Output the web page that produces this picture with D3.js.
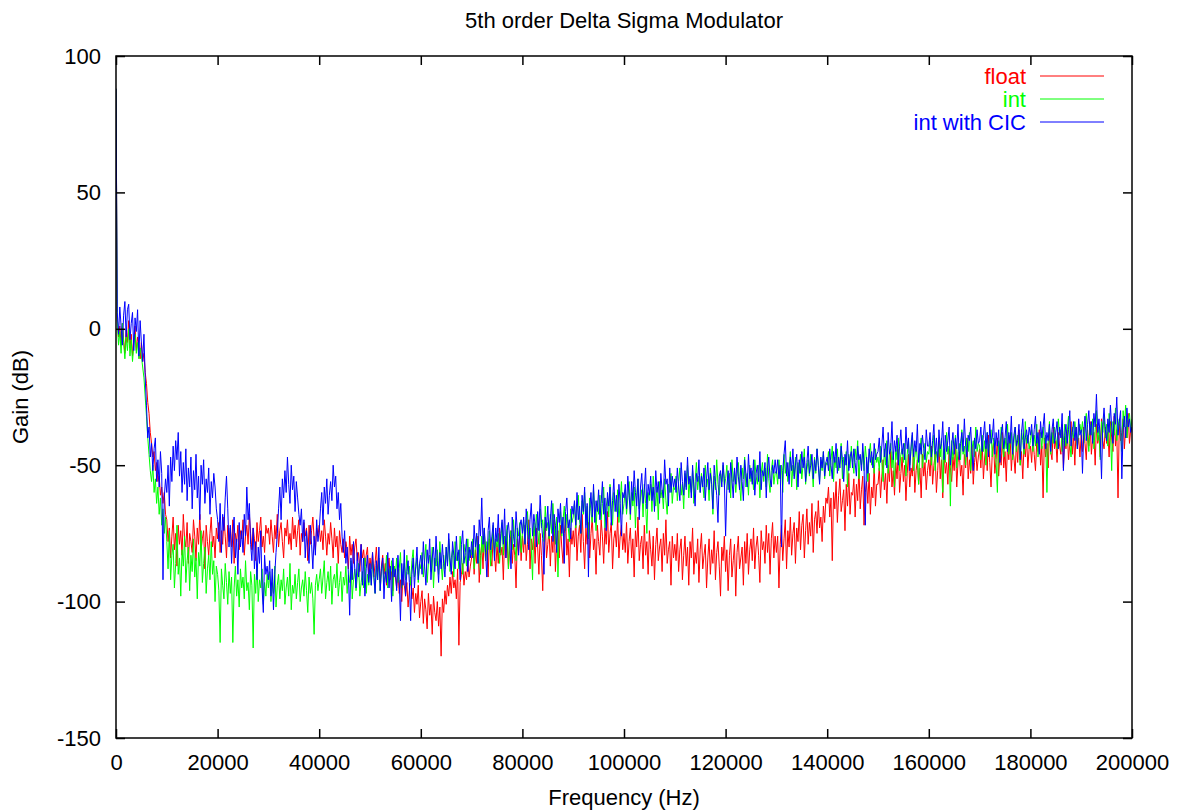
<!DOCTYPE html>
<html>
<head>
<meta charset="utf-8">
<script src="https://cdnjs.cloudflare.com/ajax/libs/d3/7.8.5/d3.min.js"></script>
<style>
body { margin: 0; background: #fff; }
text { font-family: "Liberation Sans", Arial, sans-serif; }
</style>
</head>
<body>
<div id="chart"></div>
<script>
// frequency grid, 250 Hz per sample (0 .. 200000 Hz)
const freqs = d3.range(0, 200001, 250);

const xTicks = [0, 20000, 40000, 60000, 80000, 100000, 120000, 140000, 160000, 180000, 200000];
const yTicks = [-150, -100, -50, 0, 50, 100];

const seriesNames = ["float", "int", "int with CIC"];
const seriesColors = ["#ff0000", "#00ff00", "#0000ff"];

// gain in dB, two lines = 10000 Hz
const floatGain = [
  88, 4, -3, 1, -6, 2, -4, -9, 0, -5, 3, -7, -2, -10, -4, 1, -8, -3, -6, -11,
  -5, -12, -9, -16, -20, -27, -31, -38, -42, -47, -45, -52, -49, -56, -54, -61, -58, -64, -60, -68,
  -70, -78, -73, -84, -76, -69, -81, -75, -87, -72, -79, -74, -83, -68, -77, -80, -71, -86, -75, -78,
  -82, -70, -76, -85, -73, -79, -68, -81, -77, -74, -88, -72, -78, -83, -75, -69, -80, -76, -84, -73,
  -77, -71, -82, -74, -79, -69, -76, -84, -72, -78, -73, -80, -70, -86, -75, -78, -72, -81, -74, -77,
  -70, -83, -76, -72, -79, -68, -75, -81, -73, -77, -85, -71, -78, -74, -69, -80, -76, -82, -72, -75,
  -73, -79, -70, -76, -82, -72, -77, -68, -80, -74, -71, -78, -84, -73, -76, -70, -79, -75, -81, -69,
  -77, -72, -80, -74, -70, -83, -75, -78, -71, -76, -73, -85, -72, -79, -74, -69, -77, -81, -73, -76,
  -72, -78, -74, -81, -70, -76, -83, -75, -79, -71, -77, -84, -73, -80, -76, -86, -74, -79, -82, -77,
  -84, -78, -81, -88, -76, -83, -79, -86, -80, -77, -85, -82, -89, -79, -84, -81, -87, -83, -80, -90,
  -84, -88, -82, -91, -86, -80, -89, -85, -93, -87, -83, -90, -86, -94, -88, -84, -92, -89, -96, -87,
  -91, -95, -88, -97, -92, -100, -90, -94, -98, -93, -102, -96, -91, -99, -95, -104, -97, -101, -94, -106,
  -100, -96, -108, -99, -103, -110, -97, -105, -101, -112, -98, -104, -107, -100, -109, -102, -120, -99, -104, -96,
  -101, -94, -98, -91, -97, -89, -95, -92, -99, -88, -116, -93, -90, -86, -94, -89, -92, -85, -91, -87,
  -84, -78, -90, -81, -86, -76, -93, -83, -79, -88, -74, -85, -80, -91, -77, -84, -87, -75, -82, -89,
  -79, -86, -73, -83, -80, -92, -76, -84, -78, -88, -81, -74, -86, -79, -83, -95, -77, -82, -75, -85,
  -76, -82, -72, -85, -79, -70, -88, -77, -81, -74, -86, -73, -80, -90, -75, -83, -96, -78, -71, -84,
  -79, -73, -87, -76, -82, -70, -89, -78, -74, -84, -72, -80, -86, -75, -69, -83, -77, -91, -73, -79,
  -74, -80, -70, -85, -76, -72, -82, -68, -78, -88, -73, -79, -71, -84, -75, -69, -81, -77, -90, -72,
  -78, -83, -70, -76, -86, -73, -79, -67, -82, -75, -71, -88, -77, -74, -80, -69, -84, -76, -72, -81,
  -75, -82, -71, -86, -78, -73, -84, -77, -91, -74, -80, -69, -85, -79, -76, -88, -72, -83, -78, -90,
  -74, -81, -87, -76, -92, -79, -73, -85, -80, -77, -89, -75, -83, -70, -86, -81, -78, -94, -76, -84,
  -79, -85, -75, -89, -81, -77, -92, -83, -76, -87, -80, -94, -78, -84, -73, -90, -82, -86, -77, -93,
  -81, -75, -88, -83, -79, -95, -84, -77, -90, -81, -86, -74, -92, -82, -78, -87, -98, -80, -85, -76,
  -89, -81, -96, -83, -77, -91, -85, -79, -98, -82, -76, -88, -84, -80, -94, -78, -86, -75, -90, -81,
  -77, -85, -73, -88, -80, -76, -83, -93, -74, -81, -78, -86, -72, -82, -75, -90, -77, -71, -84, -76,
  -82, -76, -95, -79, -72, -85, -77, -70, -88, -74, -80, -69, -83, -75, -71, -86, -73, -78, -67, -81,
  -72, -68, -84, -74, -66, -79, -71, -76, -64, -82, -70, -67, -75, -63, -73, -69, -78, -65, -71, -62,
  -64, -58, -69, -62, -85, -60, -66, -56, -71, -61, -55, -67, -63, -59, -74, -57, -65, -53, -68, -60,
  -61, -55, -69, -57, -63, -51, -66, -59, -54, -72, -60, -56, -64, -53, -68, -58, -62, -50, -65, -57,
  -57, -51, -62, -54, -48, -59, -53, -64, -50, -56, -45, -58, -52, -61, -49, -55, -44, -60, -53, -47,
  -56, -50, -63, -53, -46, -58, -51, -54, -44, -60, -52, -48, -57, -51, -62, -46, -54, -49, -59, -52,
  -48, -54, -43, -57, -50, -46, -60, -52, -41, -55, -48, -62, -45, -53, -49, -57, -44, -51, -56, -47,
  -52, -42, -58, -49, -45, -54, -50, -61, -46, -51, -40, -55, -48, -53, -43, -57, -49, -45, -52, -47,
  -44, -51, -41, -55, -47, -43, -52, -39, -49, -58, -45, -42, -53, -48, -40, -54, -46, -50, -38, -51,
  -45, -56, -42, -48, -39, -52, -44, -47, -53, -41, -49, -37, -50, -45, -55, -42, -47, -40, -51, -44,
  -43, -49, -39, -46, -52, -41, -45, -37, -50, -43, -62, -40, -47, -42, -51, -38, -45, -48, -36, -44,
  -41, -49, -38, -43, -46, -35, -51, -40, -44, -37, -48, -42, -34, -46, -39, -50, -36, -43, -40, -47,
  -39, -45, -36, -42, -48, -37, -43, -34, -46, -40, -38, -50, -35, -42, -39, -47, -33, -41, -44, -36,
  -42, -38, -47, -34, -40, -45, -32, -43, -37, -62, -35, -41, -38, -33, -44, -36, -40, -31, -42, -37,
  -36
];

const intGain = [
  88, 3, -6, -1, -9, 2, -5, -11, -3, -8, 0, -10, -4, -12, -6, -2, -9, -5, -11, -7,
  -10, -14, -18, -25, -32, -40, -46, -52, -56, -50, -60, -55, -64, -58, -68, -62, -72, -66, -75, -69,
  -78, -88, -74, -92, -83, -79, -95, -86, -72, -90, -84, -98, -81, -87, -76, -93, -85, -80, -96, -83,
  -89, -77, -91, -84, -99, -82, -87, -74, -93, -86, -80, -97, -88, -83, -92, -78, -90, -85, -100, -87,
  -90, -96, -115, -88, -94, -99, -86, -93, -101, -89, -97, -91, -115, -95, -87, -98, -92, -102, -88, -95,
  -91, -99, -85, -96, -93, -103, -89, -94, -117, -90, -97, -86, -100, -92, -95, -88, -101, -93, -98, -90,
  -95, -89, -100, -93, -97, -87, -102, -94, -90, -99, -92, -96, -88, -101, -95, -91, -98, -86, -103, -94,
  -97, -90, -99, -93, -88, -100, -95, -92, -98, -89, -96, -104, -91, -97, -93, -99, -112, -94, -90, -96,
  -92, -88, -97, -91, -85, -99, -93, -89, -96, -87, -101, -92, -90, -95, -86, -98, -93, -89, -100, -91,
  -94, -87, -97, -90, -93, -85, -99, -92, -88, -96, -91, -86, -98, -93, -89, -95, -84, -97, -90, -94,
  -88, -94, -85, -91, -97, -87, -92, -84, -96, -89, -86, -93, -90, -83, -95, -88, -91, -85, -98, -87,
  -90, -84, -93, -88, -82, -95, -89, -86, -92, -83, -90, -87, -94, -85, -81, -91, -88, -84, -93, -86,
  -88, -82, -91, -85, -79, -93, -86, -83, -89, -80, -95, -84, -87, -81, -90, -78, -86, -92, -83, -88,
  -80, -86, -77, -89, -84, -81, -91, -78, -85, -82, -88, -76, -84, -90, -79, -83, -87, -77, -85, -81,
  -83, -77, -88, -80, -75, -86, -79, -90, -76, -82, -73, -85, -78, -81, -74, -87, -79, -72, -84, -77,
  -80, -75, -86, -78, -71, -83, -76, -79, -72, -88, -77, -74, -81, -70, -79, -85, -73, -76, -71, -82,
  -75, -70, -79, -72, -67, -77, -73, -80, -92, -71, -76, -68, -74, -79, -66, -73, -70, -78, -65, -74,
  -71, -77, -68, -75, -64, -72, -79, -69, -91, -73, -67, -76, -70, -65, -74, -68, -72, -78, -66, -71,
  -69, -64, -73, -66, -61, -70, -75, -63, -68, -60, -72, -65, -77, -62, -67, -71, -59, -66, -74, -63,
  -68, -61, -70, -64, -58, -73, -65, -62, -69, -57, -66, -72, -60, -64, -67, -59, -71, -63, -56, -68,
  -64, -59, -68, -62, -56, -70, -60, -65, -58, -73, -61, -55, -66, -62, -59, -69, -57, -64, -75, -60,
  -63, -57, -67, -54, -61, -65, -58, -70, -56, -62, -59, -66, -55, -63, -68, -57, -60, -53, -64, -58,
  -59, -54, -63, -56, -51, -61, -57, -66, -53, -58, -50, -62, -55, -60, -52, -64, -56, -49, -59, -54,
  -60, -53, -57, -62, -50, -58, -55, -63, -51, -56, -68, -54, -59, -48, -57, -61, -53, -56, -50, -58,
  -55, -50, -59, -53, -62, -48, -56, -52, -60, -54, -49, -57, -63, -51, -55, -47, -58, -53, -61, -50,
  -56, -52, -59, -48, -54, -57, -50, -62, -53, -49, -56, -51, -58, -46, -55, -60, -52, -48, -57, -53,
  -52, -57, -48, -55, -50, -60, -46, -53, -49, -56, -51, -45, -58, -50, -54, -47, -59, -49, -53, -46,
  -55, -50, -44, -57, -52, -48, -54, -46, -51, -58, -47, -53, -44, -50, -56, -48, -52, -45, -55, -49,
  -50, -45, -54, -48, -43, -56, -47, -51, -44, -52, -49, -42, -55, -47, -50, -45, -58, -46, -51, -43,
  -49, -53, -44, -48, -41, -55, -47, -50, -45, -52, -43, -48, -56, -46, -42, -50, -47, -53, -44, -49,
  -47, -52, -43, -49, -56, -44, -50, -41, -53, -46, -42, -51, -45, -58, -43, -48, -40, -52, -46, -44,
  -49, -42, -54, -46, -41, -50, -45, -39, -52, -47, -43, -48, -57, -44, -40, -51, -46, -42, -49, -45,
  -46, -41, -50, -44, -39, -52, -45, -48, -42, -47, -40, -60, -44, -49, -38, -46, -43, -65, -41, -48,
  -44, -39, -51, -45, -42, -48, -37, -46, -43, -50, -40, -45, -38, -52, -44, -41, -47, -36, -45, -42,
  -43, -48, -39, -45, -41, -50, -38, -46, -42, -37, -47, -40, -44, -49, -60, -41, -45, -36, -43, -47,
  -40, -44, -35, -46, -41, -38, -48, -42, -36, -45, -39, -43, -50, -37, -41, -46, -34, -42, -39, -44,
  -41, -37, -45, -39, -43, -35, -47, -40, -38, -44, -36, -42, -39, -60, -41, -34, -46, -38, -42, -36,
  -40, -44, -33, -39, -37, -45, -41, -35, -43, -38, -32, -42, -47, -36, -40, -34, -39, -44, -37, -35,
  -38, -34, -42, -36, -31, -40, -45, -35, -39, -33, -44, -37, -30, -41, -36, -48, -34, -38, -32, -40,
  -35, -43, -31, -37, -52, -34, -39, -29, -41, -36, -33, -38, -45, -30, -36, -28, -40, -34, -31, -37,
  -33
];

const cicGain = [
  88, 6, -2, 8, 1, -6, 5, 10, -3, 7, 9, -4, 2, 6, -8, 4, -1, 7, -10, 3,
  -5, -12, -2, -18, -28, -40, -36, -47, -42, -52, -44, -40, -56, -48, -58, -45, -53, -92, -62, -55,
  -60, -50, -65, -47, -56, -43, -52, -41, -48, -38, -54, -45, -60, -49, -57, -44, -63, -51, -58, -47,
  -66, -52, -59, -46, -62, -54, -70, -50, -57, -48, -64, -55, -60, -51, -68, -56, -62, -53, -58, -66,
  -70, -78, -64, -82, -68, -74, -62, -54, -66, -80, -72, -86, -75, -69, -84, -77, -90, -71, -80, -74,
  -82, -68, -76, -58, -70, -64, -79, -85, -73, -88, -78, -92, -80, -86, -74, -95, -104, -83, -90, -87,
  -92, -85, -98, -88, -103, -90, -82, -75, -66, -58, -70, -55, -62, -52, -60, -47, -57, -64, -50, -59,
  -54, -67, -56, -62, -68, -72, -66, -78, -70, -84, -74, -80, -86, -72, -79, -88, -76, -83, -70, -78,
  -74, -66, -60, -72, -58, -64, -55, -68, -61, -56, -63, -50, -58, -54, -66, -60, -70, -64, -76, -82,
  -74, -86, -80, -90, -105, -84, -92, -78, -88, -95, -82, -91, -86, -79, -94, -84, -98, -88, -83, -93,
  -86, -94, -82, -90, -97, -85, -92, -80, -96, -88, -84, -99, -89, -93, -82, -95, -87, -100, -84, -91,
  -88, -96, -83, -92, -107, -86, -94, -81, -98, -89, -85, -93, -107, -90, -84, -95, -87, -80, -92, -86,
  -83, -90, -78, -87, -94, -81, -86, -77, -92, -84, -80, -89, -76, -85, -93, -82, -88, -79, -86, -91,
  -80, -87, -75, -84, -90, -78, -83, -88, -76, -85, -81, -92, -79, -74, -86, -82, -77, -89, -80, -84,
  -78, -84, -72, -80, -75, -86, -70, -76, -62, -79, -73, -82, -91, -74, -69, -81, -76, -71, -85, -73,
  -78, -68, -82, -75, -70, -79, -66, -84, -74, -71, -77, -88, -69, -76, -80, -67, -74, -83, -72, -70,
  -75, -69, -79, -66, -73, -81, -70, -64, -76, -68, -72, -80, -67, -74, -61, -71, -77, -90, -69, -73,
  -65, -76, -70, -63, -78, -68, -72, -82, -66, -71, -64, -75, -69, -86, -67, -62, -73, -70, -77, -65,
  -68, -63, -72, -60, -70, -65, -75, -61, -67, -58, -73, -64, -91, -66, -60, -69, -57, -71, -63, -67,
  -59, -70, -64, -56, -68, -62, -74, -60, -65, -58, -72, -63, -55, -67, -61, -69, -57, -64, -76, -60,
  -62, -57, -66, -54, -61, -68, -56, -63, -52, -60, -65, -55, -70, -58, -53, -64, -59, -51, -66, -57,
  -61, -54, -63, -58, -67, -52, -60, -56, -64, -53, -59, -62, -48, -57, -55, -65, -51, -60, -54, -58,
  -55, -60, -51, -58, -63, -49, -56, -61, -52, -59, -47, -57, -54, -62, -50, -58, -65, -53, -56, -48,
  -60, -54, -58, -51, -63, -55, -49, -59, -53, -57, -66, -50, -56, -61, -71, -54, -52, -58, -49, -55,
  -76, -58, -52, -60, -49, -55, -62, -51, -57, -47, -54, -59, -50, -56, -63, -48, -53, -58, -46, -55,
  -51, -57, -48, -61, -53, -50, -56, -45, -59, -52, -54, -49, -62, -51, -47, -55, -58, -50, -53, -48,
  -53, -48, -55, -50, -80, -52, -46, -41, -54, -49, -57, -47, -52, -44, -55, -50, -46, -58, -48, -53,
  -45, -51, -47, -56, -49, -43, -53, -50, -46, -55, -48, -52, -44, -50, -57, -47, -51, -45, -54, -49,
  -47, -52, -44, -50, -55, -45, -49, -42, -53, -47, -51, -43, -48, -56, -46, -50, -41, -52, -47, -45,
  -51, -44, -49, -54, -43, -48, -46, -52, -42, -50, -72, -47, -53, -44, -49, -45, -51, -42, -48, -46,
  -45, -40, -49, -43, -36, -47, -42, -51, -38, -46, -44, -34, -48, -41, -45, -39, -50, -43, -37, -46,
  -42, -48, -36, -44, -40, -52, -43, -38, -47, -41, -45, -35, -49, -42, -46, -39, -44, -48, -37, -43,
  -43, -38, -47, -41, -35, -46, -40, -49, -37, -44, -42, -34, -48, -39, -45, -41, -36, -50, -43, -38,
  -46, -40, -44, -35, -48, -42, -38, -45, -33, -43, -47, -39, -41, -36, -46, -52, -40, -44, -37, -42,
  -41, -36, -45, -39, -34, -44, -38, -47, -35, -42, -40, -33, -46, -38, -43, -37, -49, -39, -35, -44,
  -40, -34, -45, -38, -42, -32, -46, -39, -36, -43, -41, -35, -48, -38, -33, -44, -40, -37, -42, -36,
  -39, -35, -43, -37, -32, -42, -38, -46, -34, -40, -36, -31, -44, -38, -41, -35, -45, -37, -33, -42,
  -38, -34, -44, -36, -40, -31, -52, -39, -35, -42, -37, -30, -43, -38, -34, -41, -36, -44, -33, -39,
  -37, -53, -38, -32, -41, -35, -30, -39, -34, -42, -31, -36, -24, -38, -33, -40, -55, -35, -29, -37,
  -41, -33, -38, -28, -36, -42, -31, -35, -25, -39, -34, -30, -55, -37, -32, -40, -29, -36, -33, -38,
  -36
];

const seriesData = [floatGain, intGain, cicGain];

let width = 1177, height = 812;
let margin = {top: 56, right: 45, bottom: 74, left: 116};

let svg = d3.select("#chart")
    .append("svg")
    .attr("width", width)
    .attr("height", height);

let x = d3.scaleLinear()
    .domain([0, 200000])
    .range([margin.left, width - margin.right]);

let y = d3.scaleLinear()
    .domain([-150, 100])
    .range([height - margin.bottom, margin.top]);

let fontSize = 22;

//clip so the lines stay inside the frame
svg.append("clipPath")
    .attr("id", "plotclip")
    .append("rect")
    .attr("x", x(0))
    .attr("y", y(100))
    .attr("width", x(200000) - x(0))
    .attr("height", y(-150) - y(100));

//lines, drawn in gnuplot order (float first, CIC on top)
let line = d3.line()
    .x(function(d, i) { return x(freqs[i]); })
    .y(function(d) { return y(d); });

svg.append("g")
    .attr("clip-path", "url(#plotclip)")
    .selectAll("path")
    .data(seriesData)
    .enter()
    .append("path")
    .attr("d", function(d) { return line(d); })
    .attr("fill", "none")
    .attr("stroke", function(d, i) { return seriesColors[i]; })
    .attr("stroke-width", 1)
    .attr("stroke-linejoin", "round");

//axes with inward ticks, mirrored on top and right
let plainNum = function(d) { return String(d); }; // keep ascii minus like gnuplot
let bottomAxis = svg.append("g")
    .attr("transform", "translate(0," + y(-150) + ")")
    .call(d3.axisBottom(x).tickValues(xTicks).tickSize(-9).tickPadding(16).tickFormat(plainNum));
let topAxis = svg.append("g")
    .attr("transform", "translate(0," + y(100) + ")")
    .call(d3.axisTop(x).tickValues(xTicks).tickSize(-9).tickFormat(""));
let leftAxis = svg.append("g")
    .attr("transform", "translate(" + x(0) + ",0)")
    .call(d3.axisLeft(y).tickValues(yTicks).tickSize(-9).tickPadding(15).tickFormat(plainNum));
let rightAxis = svg.append("g")
    .attr("transform", "translate(" + x(200000) + ",0)")
    .call(d3.axisRight(y).tickValues(yTicks).tickSize(-9).tickFormat(""));

[bottomAxis, topAxis, leftAxis, rightAxis].forEach(function(a) {
    a.select(".domain").remove();
    a.selectAll(".tick line").attr("stroke", "#000").attr("stroke-width", 1.5);
    a.selectAll(".tick text")
        .attr("fill", "#000")
        .style("font-size", fontSize + "px")
        .style("font-family", "'Liberation Sans', Arial, sans-serif");
});

//frame
svg.append("rect")
    .attr("x", x(0))
    .attr("y", y(100))
    .attr("width", x(200000) - x(0))
    .attr("height", y(-150) - y(100))
    .attr("fill", "none")
    .attr("stroke", "#000")
    .attr("stroke-width", 1.5);

//title and axis labels
svg.append("text")
    .attr("x", (x(0) + x(200000)) / 2)
    .attr("y", 28)
    .attr("text-anchor", "middle")
    .style("font-size", fontSize + "px")
    .text("5th order Delta Sigma Modulator");

svg.append("text")
    .attr("x", (x(0) + x(200000)) / 2)
    .attr("y", 805)
    .attr("text-anchor", "middle")
    .style("font-size", fontSize + "px")
    .text("Frequency (Hz)");

svg.append("text")
    .attr("transform", "translate(28," + ((y(100) + y(-150)) / 2) + ") rotate(-90)")
    .attr("text-anchor", "middle")
    .style("font-size", fontSize + "px")
    .text("Gain (dB)");

//legend, top right inside the frame
let legend = svg.selectAll("myLegend")
    .data(seriesNames)
    .enter()
    .append("g")
    .attr("transform", function(d, i) { return "translate(0," + (76 + i * 23) + ")"; });

legend.append("text")
    .attr("x", 1026)
    .attr("y", 8)
    .attr("text-anchor", "end")
    .style("font-size", fontSize + "px")
    .style("fill", function(d, i) { return seriesColors[i]; })
    .text(function(d) { return d; });

legend.append("line")
    .attr("x1", 1040)
    .attr("x2", 1104)
    .attr("y1", 0)
    .attr("y2", 0)
    .attr("stroke", function(d, i) { return seriesColors[i]; })
    .attr("stroke-width", 1);
</script>
</body>
</html>
